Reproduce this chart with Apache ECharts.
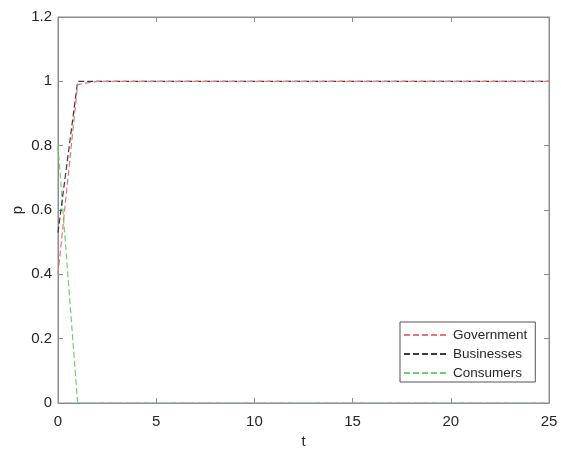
<!DOCTYPE html>
<html>
<head>
<meta charset="utf-8">
<script src="https://cdn.jsdelivr.net/npm/echarts@6/dist/echarts.min.js"></script>
<style>
html,body{margin:0;padding:0;background:#fff;}
#main{width:561px;height:449px;}
</style>
</head>
<body>
<div id="main"></div>
<script>
const tValues = [0,1,2,3,4,5,6,7,8,9,10,11,12,13,14,15,16,17,18,19,20,21,22,23,24,25];
const government = [0.4,0.99,1,1,1,1,1,1,1,1,1,1,1,1,1,1,1,1,1,1,1,1,1,1,1,1];
const businesses = [0.53,1,1,1,1,1,1,1,1,1,1,1,1,1,1,1,1,1,1,1,1,1,1,1,1,1];
const consumers = [0.8,0,0,0,0,0,0,0,0,0,0,0,0,0,0,0,0,0,0,0,0,0,0,0,0,0];
const seriesNames = ['Government','Businesses','Consumers'];
const seriesColors = ['#e87474','#3a3a3a','#70d070'];

function pairs(vals){ return tValues.map((t,i)=>[t, vals[i]]); }

const font = 'Liberation Sans, Arial, sans-serif';
const axisColor = '#8c8c8c';
const labelColor = '#262626';

const chart = echarts.init(document.getElementById('main'));
chart.setOption({
  animation:false,
  backgroundColor:'#fff',
  grid:{left:58,right:12,top:17,bottom:46,show:true,borderColor:axisColor,borderWidth:1,
        containLabel:false,outerBoundsMode:'none'},
  legend:{
    orient:'vertical',
    left:400, top:322,
    width:133,
    backgroundColor:'#fff',
    borderColor:'#555',
    borderWidth:1,
    borderRadius:0,
    padding:[6,8,2,3],
    itemGap:5,
    itemWidth:42,
    itemHeight:10,
    itemStyle:{opacity:0},
    textStyle:{fontFamily:font,fontSize:13.5,color:labelColor,padding:[0,0,0,2]},
    data:seriesNames.map(n=>({name:n}))
  },
  xAxis:[{
    type:'value', min:0, max:25, interval:5, position:'bottom',
    name:'t', nameLocation:'middle', nameGap:31, nameMoveOverlap:false,
    nameTextStyle:{fontFamily:font,fontSize:15,color:labelColor},
    axisLine:{show:true,onZero:false,lineStyle:{color:axisColor}},
    axisTick:{show:true,inside:true,length:5,lineStyle:{color:axisColor}},
    axisLabel:{fontFamily:font,fontSize:15,color:labelColor,margin:11},
    splitLine:{show:false}
  },{
    type:'value', min:0, max:25, interval:5, position:'top',
    axisLine:{show:true,onZero:false,lineStyle:{color:axisColor}},
    axisTick:{show:true,inside:true,length:5,lineStyle:{color:axisColor}},
    axisLabel:{show:false},
    splitLine:{show:false}
  }],
  yAxis:[{
    type:'value', min:0, max:1.2, interval:0.2, position:'left',
    name:'p', nameLocation:'middle', nameGap:33, nameRotate:90, nameMoveOverlap:false,
    nameTextStyle:{fontFamily:font,fontSize:15,color:labelColor},
    axisLine:{show:true,onZero:false,lineStyle:{color:axisColor}},
    axisTick:{show:true,inside:true,length:5,lineStyle:{color:axisColor}},
    axisLabel:{fontFamily:font,fontSize:15,color:labelColor,margin:6,
      formatter:v=>String(Math.round(v*10)/10)},
    splitLine:{show:false}
  },{
    type:'value', min:0, max:1.2, interval:0.2, position:'right',
    axisLine:{show:true,onZero:false,lineStyle:{color:axisColor}},
    axisTick:{show:true,inside:true,length:5,lineStyle:{color:axisColor}},
    axisLabel:{show:false},
    splitLine:{show:false}
  }],
  series:[government,businesses,consumers].map((vals,i)=>({
    name:seriesNames[i],
    type:'line',
    xAxisIndex:0, yAxisIndex:0,
    data:pairs(vals),
    symbol:'none',
    color:seriesColors[i],
    lineStyle:{color:seriesColors[i],width:1.2,type:[6,3]},
    z:3-i
  }))
});
</script>
</body>
</html>
